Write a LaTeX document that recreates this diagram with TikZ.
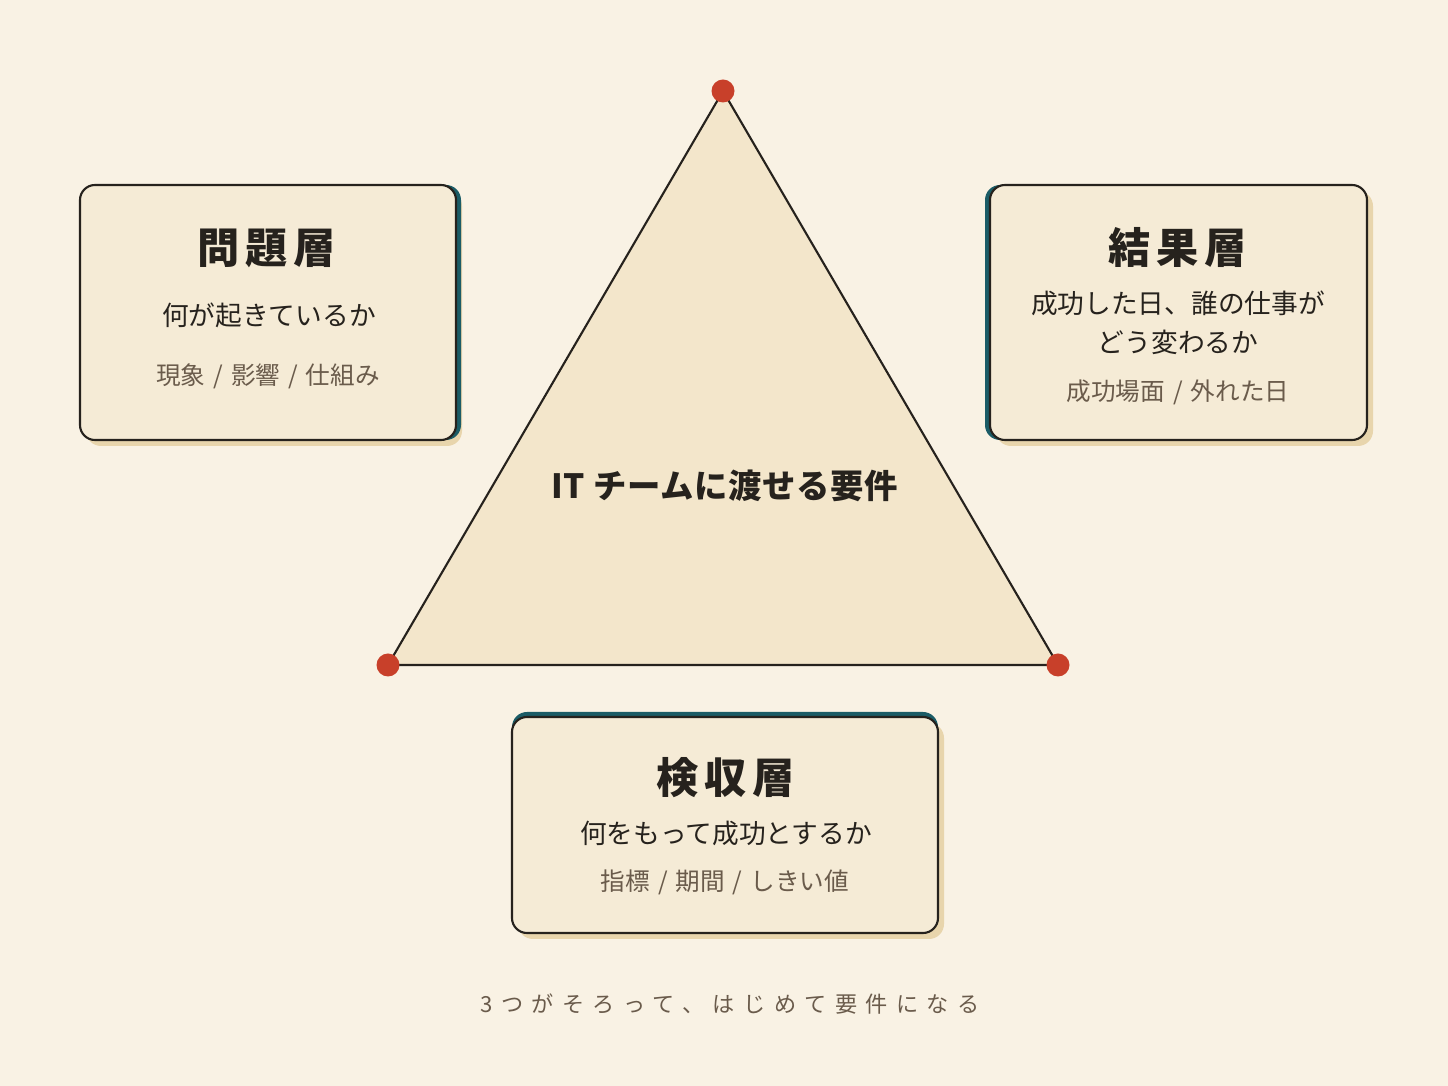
\documentclass[tikz,border=0pt]{standalone}
\usepackage{fontspec}
\setmainfont{Noto Sans CJK JP}
\usepackage{tikz}
\usetikzlibrary{shadows}
\definecolor{paper}{HTML}{F9F2E4}
\definecolor{cardfill}{HTML}{F5EBD6}
\definecolor{trifill}{HTML}{F3E6CB}
\definecolor{accent}{HTML}{1B5C66}
\definecolor{shadowtan}{HTML}{E8D5AC}
\definecolor{ink}{HTML}{26221D}
\definecolor{muted}{HTML}{6A5B4B}
\definecolor{vertexred}{HTML}{C8402A}
\newcommand{\sep}{\hspace{0.08cm}/\hspace{0.08cm}}
\tikzstyle{card} = [rectangle, rounded corners=0.15cm, draw=ink, line width=0.6pt, fill=cardfill, drop shadow={shadow xshift=0.06cm, shadow yshift=-0.06cm, fill=shadowtan, opacity=1}]
\tikzstyle{title} = [text=ink, font=\fontsize{12pt}{14pt}\selectfont\bfseries\addfontfeature{LetterSpace=14}]
\tikzstyle{question} = [text=ink, font=\fontsize{7.6pt}{11pt}\selectfont, align=center]
\tikzstyle{tags} = [text=muted, font=\fontsize{7pt}{8pt}\selectfont]
\tikzstyle{vertex} = [circle, fill=vertexred, minimum size=0.23cm, inner sep=0pt]
\tikzstyle{edge} = [draw=ink, line width=0.6pt]

\begin{document}
\begin{tikzpicture}
	\fill[paper] (0,0) rectangle (14.48,-10.86);
	\useasboundingbox (0,0) rectangle (14.48,-10.86);

	\coordinate(apex) at (7.23,-0.91);
	\coordinate(baseleft) at (3.88,-6.65);
	\coordinate(baseright) at (10.58,-6.65);
	\fill[trifill] (apex) -- (baseleft) -- (baseright) -- cycle;
	\draw[edge] (apex) -- (baseleft) -- (baseright) -- cycle;
	\node(apexdot) [vertex] at (apex) {};
	\node(leftdot) [vertex] at (baseleft) {};
	\node(rightdot) [vertex] at (baseright) {};
	\node(goal) [text=ink, font=\fontsize{9.5pt}{11pt}\selectfont\bfseries\addfontfeature{LetterSpace=2}] at (7.245,-4.86) {IT チームに渡せる要件};

	\node(problem) [card, minimum width=3.76cm, minimum height=2.55cm, general shadow={shadow xshift=0.05cm, fill=accent, opacity=1}] at (2.68,-3.125) {};
	\node(problemtitle) [title] at (2.67,-2.48) {問題層};
	\node(problemq) [question] at (2.69,-3.15) {何が起きているか};
	\node(problemtags) [tags] at (2.68,-3.76) {現象\sep 影響\sep 仕組み};

	\node(result) [card, minimum width=3.77cm, minimum height=2.55cm, general shadow={shadow xshift=-0.05cm, fill=accent, opacity=1}] at (11.785,-3.125) {};
	\node(resulttitle) [title] at (11.78,-2.48) {結果層};
	\node(resultq) [question] at (11.78,-3.23) {成功した日、誰の仕事が\\どう変わるか};
	\node(resulttags) [tags] at (11.78,-3.92) {成功場面\sep 外れた日};

	\node(accept) [card, minimum width=4.26cm, minimum height=2.16cm, general shadow={shadow yshift=0.05cm, fill=accent, opacity=1}] at (7.25,-8.25) {};
	\node(accepttitle) [title] at (7.26,-7.78) {検収層};
	\node(acceptq) [question] at (7.26,-8.33) {何をもって成功とするか};
	\node(accepttags) [tags] at (7.25,-8.82) {指標\sep 期間\sep しきい値};

	\node(caption) [text=muted, font=\fontsize{6.3pt}{8pt}\selectfont\addfontfeature{LetterSpace=38}] at (7.30,-10.04) {3つがそろって、はじめて要件になる};
\end{tikzpicture}
\end{document}
